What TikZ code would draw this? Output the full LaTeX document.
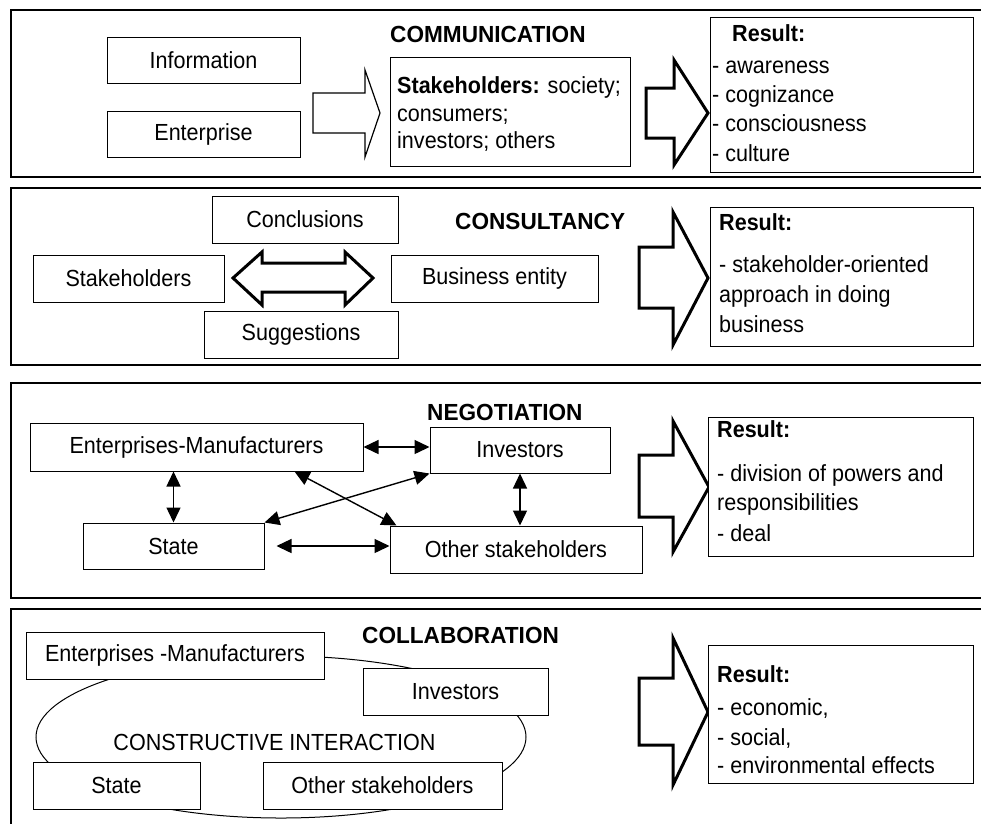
\documentclass[tikz,border=0pt]{standalone}
\usepackage{fontspec}
\setmainfont{Liberation Sans}[FakeStretch=0.925]
\newfontfamily\titlefont{Liberation Sans}[FakeStretch=0.97]
\usetikzlibrary{arrows.meta,calc}
\begin{document}
\begin{tikzpicture}[x=1pt,y=-1pt,
  reg/.style={font=\fontsize{23.3}{28}\selectfont},
  ttl/.style={font=\titlefont\fontsize{23.3}{28}\selectfont\bfseries, anchor=base west, inner sep=0},
  box/.style={draw, fill=white, line width=1pt, inner sep=0, reg},
  panel/.style={draw, line width=1.3pt},
  txtline/.style={reg, anchor=base west, inner sep=0},
  thinarrow/.style={draw, line width=1.2pt, line join=miter},
  bigarrow/.style={draw, line width=3pt, line join=miter},
  dbl/.style={line width=1.4pt, {Triangle[length=15pt,width=14pt]}-{Triangle[length=15pt,width=14pt]}},
]
\useasboundingbox (0,0) rectangle (981,823);
\clip (0,0) rectangle (981,823);

% ---------- panels ----------
\draw[panel] (11,10) rectangle (995,177);
\draw[panel] (11,188) rectangle (995,365);
\draw[panel] (11,383) rectangle (995,598);
\draw[panel] (11,609) rectangle (995,840);

% ---------- COMMUNICATION ----------
\node[ttl] (t1) at (390,42) {COMMUNICATION};
\node[box, minimum width=193, minimum height=46] (info) at (203.5,60) {Information};
\node[box, minimum width=193, minimum height=46] (ent) at (203.5,134) {Enterprise};
\draw[thinarrow] (313,93) -- (365,93) -- (365,70) -- (380,113) -- (365,157) -- (365,133) -- (313,133) -- cycle;
\node[box, minimum width=240, minimum height=109] (stk) at (510,111.5) {};
\node[txtline] (stk1) at (397,93) {\textbf{Stakeholders:} society;};
\node[txtline] (stk2) at (397,121) {consumers;};
\node[txtline] (stk3) at (397,148) {investors; others};
\draw[bigarrow] (646,88) -- (674,88) -- (674,60) -- (708,113) -- (674,165) -- (674,138) -- (646,138) -- cycle;
\node[box, minimum width=263, minimum height=155] (res1) at (841.5,94.5) {};
\node[txtline] (r1a) at (732,41) {\textbf{Result:}};
\node[txtline] (r1b) at (712,73) {- awareness};
\node[txtline] (r1c) at (712,102) {- cognizance};
\node[txtline] (r1d) at (712,131) {- consciousness};
\node[txtline] (r1e) at (712,161) {- culture};

% ---------- CONSULTANCY ----------
\node[ttl] (t2) at (455,229) {CONSULTANCY};
\node[box, minimum width=186, minimum height=47] (concl) at (305,219.5) {Conclusions};
\node[box, minimum width=191, minimum height=47] (stakeh) at (128.5,278.5) {Stakeholders};
\node[box, minimum width=194, minimum height=47] (sugg) at (301,334.5) {Suggestions};
\node[box, minimum width=207, minimum height=47] (bus) at (494.5,278.5) {Business entity};
\draw[bigarrow] (233,278) -- (262,252) -- (262,263) -- (345,263) -- (345,252) -- (373,278) -- (345,305) -- (345,292) -- (262,292) -- (262,305) -- cycle;
\draw[bigarrow] (639,247) -- (673,247) -- (673,212) -- (708,278) -- (673,345) -- (673,308) -- (639,308) -- cycle;
\node[box, minimum width=263, minimum height=139] (res2) at (841.5,276.5) {};
\node[txtline] (r2a) at (719,230) {\textbf{Result:}};
\node[txtline] (r2b) at (719,272) {- stakeholder-oriented};
\node[txtline] (r2c) at (719,302) {approach in doing};
\node[txtline] (r2d) at (719,332) {business};

% ---------- NEGOTIATION ----------
\node[ttl] (t3) at (427,420) {NEGOTIATION};
\node[box, minimum width=333, minimum height=48] (em) at (196.5,447) {Enterprises-Manufacturers};
\node[box, minimum width=180, minimum height=46] (inv) at (520,450) {Investors};
\node[box, minimum width=181, minimum height=46] (state) at (173.5,546) {State};
\node[box, minimum width=252, minimum height=47] (other) at (516,549.5) {Other stakeholders};
\draw[dbl] (em.east) -- (em.east -| inv.west);
\draw[dbl] (state.north |- em.south) -- (state.north);
\draw[dbl] ([xshift=12pt]state.east) -- (other.west |- state.east);
\draw[dbl] (inv.south) -- (inv.south |- other.north);
\draw[dbl] ([xshift=265pt]em.south west) -- ([xshift=7pt]other.north west);
\draw[dbl] (state.north east) -- (inv.south west);
\draw[bigarrow] (639,455) -- (673,455) -- (673,421) -- (709,487) -- (673,552) -- (673,517) -- (639,517) -- cycle;
\node[box, minimum width=265, minimum height=139] (res3) at (840.5,486.5) {};
\node[txtline] (r3a) at (717,437) {\textbf{Result:}};
\node[txtline] (r3b) at (717,481) {- division of powers and};
\node[txtline] (r3c) at (717,510) {responsibilities};
\node[txtline] (r3d) at (717,541) {- deal};

% ---------- COLLABORATION ----------
\node[ttl] (t4) at (362,643) {COLLABORATION};
\draw[line width=1pt] (281,737) ellipse [x radius=245, y radius=81];
\node[reg, inner sep=0, anchor=base] (ci) at (274.5,750) {CONSTRUCTIVE INTERACTION};
\node[box, minimum width=298, minimum height=47] (em4) at (175,655.5) {Enterprises -Manufacturers};
\node[box, minimum width=185, minimum height=47] (inv4) at (455.5,691.5) {Investors};
\node[box, minimum width=167, minimum height=47] (state4) at (116.5,785.5) {State};
\node[box, minimum width=239, minimum height=47] (other4) at (382.5,785.5) {Other stakeholders};
\draw[bigarrow] (639,678) -- (673,678) -- (673,638) -- (708,712) -- (673,785) -- (673,745) -- (639,745) -- cycle;
\node[box, minimum width=265, minimum height=138] (res4) at (840.5,714) {};
\node[txtline] (r4a) at (717,682) {\textbf{Result:}};
\node[txtline] (r4b) at (717,715) {- economic,};
\node[txtline] (r4c) at (717,745) {- social,};
\node[txtline] (r4d) at (717,773) {- environmental effects};
\end{tikzpicture}
\end{document}
